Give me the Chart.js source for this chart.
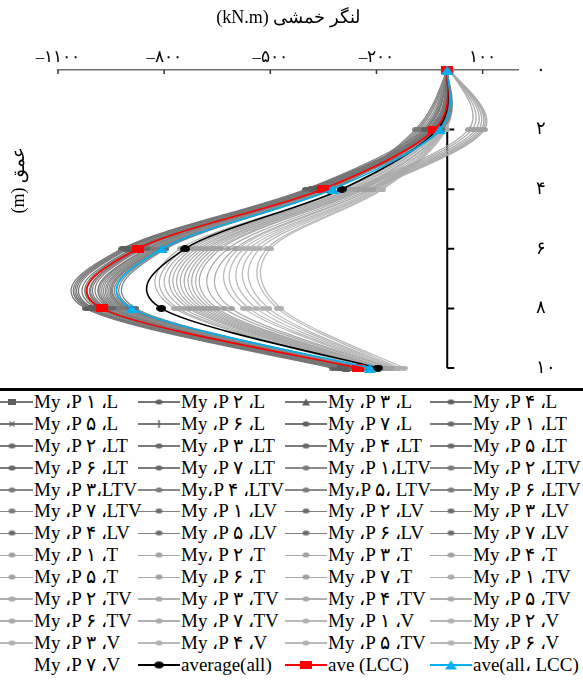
<!DOCTYPE html>
<html lang="fa">
<head>
<meta charset="utf-8">
<title>لنگر خمشی</title>
<script src="https://cdn.jsdelivr.net/npm/chart.js@4.4.1/dist/chart.umd.min.js"></script>
<style>
html,body{margin:0;padding:0;background:#fff;}
#wrap{position:relative;width:583px;height:682px;overflow:hidden;background:#fff;}
#c{position:absolute;left:0;top:0;}
#legend{position:absolute;left:0;top:388px;width:583px;height:294px;border-top:3px solid #000;box-sizing:border-box;overflow:hidden;}
#grid{display:grid;grid-template-columns:147px 147px 145px 153px;grid-auto-rows:21.9px;margin-left:-9px;font-family:"Liberation Serif","Times New Roman",serif;font-size:19px;color:#000;direction:ltr;}
.item{display:flex;align-items:center;white-space:nowrap;height:21.9px;}
.smp{position:relative;flex:0 0 42px;height:20px;}
.smp .ln{position:absolute;left:0;right:0;top:9.5px;height:1.5px;}
.smp img{position:absolute;left:50%;top:50%;transform:translate(-50%,-50%);}
.txt{margin-left:1px;line-height:21.9px;}
</style>
</head>
<body>
<div id="wrap">
  <canvas id="c" width="583" height="388"></canvas>
  <div id="legend"><div id="grid"></div></div>
</div>
<script>
// ---------------- data ----------------
const depths = [0, 2, 4, 6, 8, 10];
const xTickValues = [-1100, -800, -500, -200, 100];
const xTickLabels = ['–۱۱۰۰', '–۸۰۰', '–۵۰۰', '–۲۰۰', '۱۰۰'];
const yTickValues = [0, 2, 4, 6, 8, 10];
const yTickLabels = ['۰', '۲', '۴', '۶', '۸', '۱۰'];
const xTitle = '\u2067لنگر خمشی (kN.m)\u2069';
const yTitle = '\u2067عمق (m)\u2069';

const labelsL   = ['My ،P ۱ ،L', 'My ،P ۲ ،L', 'My ،P ۳ ،L', 'My ،P ۴ ،L', 'My ،P ۵ ،L', 'My ،P ۶ ،L', 'My ،P ۷ ،L'];
const labelsLT  = ['My ،P ۱ ،LT', 'My ،P ۲ ،LT', 'My ،P ۳ ،LT', 'My ،P ۴ ،LT', 'My ،P ۵ ،LT', 'My ،P ۶ ،LT', 'My ،P ۷ ،LT'];
const labelsLTV = ['My ،P ۱،LTV', 'My ،P ۲ ،LTV', 'My ،P ۳،LTV', 'My،P ۴ ،LTV', 'My،P ۵، LTV', 'My ،P ۶ ،LTV', 'My ،P ۷ ،LTV'];
const labelsLV  = ['My ،P ۱ ،LV', 'My ،P ۲ ،LV', 'My ،P ۳ ،LV', 'My ،P ۴ ،LV', 'My ،P ۵ ،LV', 'My ،P ۶ ،LV', 'My ،P ۷ ،LV'];
const labelsT   = ['My ،P ۱ ،T', 'My، P ۲ ،T', 'My ،P ۳ ،T', 'My ،P ۴ ،T', 'My ،P ۵ ،T', 'My ،P ۶ ،T', 'My ،P ۷ ،T'];
const labelsTV  = ['My ،P ۱ ،TV', 'My ،P ۲ ،TV', 'My ،P ۳ ،TV', 'My ،P ۴ ،TV', 'My ،P ۵ ،TV', 'My ،P ۶ ،TV', 'My ،P ۷ ،TV'];
const labelsV   = ['My ،P ۱ ،V', 'My ،P ۲ ،V', 'My ،P ۳ ،V', 'My ،P ۴ ،V', 'My ،P ۵ ،TV', 'My ،P ۶ ،V', 'My  ،P ۷ ،V'];

// values at depths 0,2,4,6,8,10 (kN.m)
const seriesL = [
  [0, -40, -380, -905, -1005, -300],
  [0, -55, -395, -915, -1015, -315],
  [0, -30, -370, -890, -990, -285],
  [0, -65, -400, -920, -1022, -325],
  [0, -45, -385, -900, -1000, -295],
  [0, -35, -375, -885, -982, -280],
  [0, -50, -390, -910, -1010, -305]
];
const seriesLT = [
  [0, -25, -360, -870, -965, -265],
  [0, -40, -365, -880, -975, -275],
  [0, -20, -350, -860, -952, -255],
  [0, -45, -370, -875, -980, -270],
  [0, -30, -355, -865, -960, -260],
  [0, -15, -345, -850, -945, -250],
  [0, -35, -362, -868, -970, -268]
];
const seriesLTV = [
  [0, -60, -345, -840, -935, -245],
  [0, -75, -352, -848, -945, -252],
  [0, -85, -340, -830, -925, -240],
  [0, -70, -348, -845, -940, -248],
  [0, -90, -335, -825, -915, -238],
  [0, -65, -342, -835, -930, -242],
  [0, -80, -338, -828, -920, -236]
];
const seriesLV = [
  [0, -50, -335, -815, -905, -235],
  [0, -60, -330, -805, -895, -230],
  [0, -40, -340, -820, -912, -240],
  [0, -55, -328, -800, -888, -228],
  [0, -45, -332, -810, -900, -232],
  [0, -35, -336, -818, -908, -238],
  [0, -65, -326, -795, -880, -225]
];
const seriesT = [
  [8, 95, -230, -640, -650, -175],
  [8, 105, -210, -600, -610, -160],
  [8, 80, -250, -680, -690, -190],
  [8, 100, -220, -620, -630, -165],
  [8, 70, -260, -700, -710, -200],
  [8, 88, -240, -660, -670, -180],
  [8, 60, -270, -720, -730, -210]
];
const seriesTV = [
  [0, -20, -280, -740, -760, -220],
  [0, -10, -265, -710, -720, -205],
  [0, -25, -290, -755, -770, -228],
  [0, -15, -255, -690, -700, -195],
  [0, -5, -240, -650, -660, -180],
  [0, -18, -275, -730, -745, -215],
  [0, -12, -250, -670, -680, -188]
];
const seriesV = [
  [0, -10, -200, -560, -540, -150],
  [0, -5, -190, -530, -505, -142],
  [0, -15, -215, -590, -575, -160],
  [0, -8, -185, -510, -480, -135],
  [0, -12, -205, -575, -560, -155],
  [0, -6, -195, -545, -520, -145],
  [0, -3, -182, -500, -470, -122]
];
const avgAllLabel = 'average(all)';
const avgAll = [0, -28, -298, -741, -808, -196];
const aveLCCLabel = 'ave (LCC)';
const aveLCC = [0, -36, -352, -874, -976, -253];
const aveAllLCCLabel = 'ave(all، LCC)';
const aveAllLCC = [0, -21, -323, -806, -892, -219];

// ---------------- styles ----------------
const FONT = '"Liberation Serif", "Times New Roman", serif';
const groupColor = {L: '#767676', LT: '#7c7c7c', LTV: '#8a8a8a', LV: '#818181', T: '#a8a8a8', TV: '#b0b0b0', V: '#b9b9b9'};
const groupMarker = {L: '#5e5e5e', LT: '#666666', LTV: '#7a7a7a', LV: '#6c6c6c', T: '#a0a0a0', TV: '#a8a8a8', V: '#b0b0b0'};
const lShapes = ['rect', 'ellipse', 'triangle', 'ellipse', 'x', 'bar', 'ellipse'];
const shapeSize = {rect: [8, 6], ellipse: [7, 5], triangle: [8, 7], x: [7, 7], bar: [3, 8]};

function markerCanvas(shape, color, w, h) {
  const c = document.createElement('canvas');
  c.width = w; c.height = h;
  const g = c.getContext('2d');
  g.fillStyle = color; g.strokeStyle = color;
  if (shape === 'ellipse') { g.beginPath(); g.ellipse(w / 2, h / 2, w / 2, h / 2, 0, 0, Math.PI * 2); g.fill(); }
  else if (shape === 'rect') { g.fillRect(0, 0, w, h); }
  else if (shape === 'triangle') { g.beginPath(); g.moveTo(w / 2, 0); g.lineTo(w, h); g.lineTo(0, h); g.closePath(); g.fill(); }
  else if (shape === 'x') { g.lineWidth = 1.3; g.beginPath(); g.moveTo(1, 1); g.lineTo(w - 1, h - 1); g.moveTo(w - 1, 1); g.lineTo(1, h - 1); g.stroke(); }
  else if (shape === 'bar') { g.fillRect(w / 2 - 0.75, 0, 1.5, h); }
  return c;
}

function toPoints(vals) { return depths.map((d, j) => ({x: vals[j], y: d})); }

const groups = [
  ['L', labelsL, seriesL], ['LT', labelsLT, seriesLT], ['LTV', labelsLTV, seriesLTV], ['LV', labelsLV, seriesLV],
  ['T', labelsT, seriesT], ['TV', labelsTV, seriesTV], ['V', labelsV, seriesV]
];
const datasets = [];
groups.forEach(([key, labels, rows]) => {
  const col = groupColor[key];
  rows.forEach((vals, i) => {
    const shape = key === 'L' ? lShapes[i] : 'ellipse';
    const sz = shapeSize[shape];
    datasets.push({
      label: labels[i], data: toPoints(vals),
      borderColor: col, backgroundColor: col, borderWidth: 1.2,
      pointStyle: markerCanvas(shape, groupMarker[key], sz[0], sz[1]), pointRadius: 3,
      order: 1, clip: false, xAxisID: 'x', yAxisID: 'y',
      legendSample: !(key === 'V' && i === 6)
    });
  });
});
datasets.push({label: avgAllLabel, data: toPoints(avgAll), borderColor: '#000', backgroundColor: '#000', borderWidth: 1.6,
  pointStyle: markerCanvas('ellipse', '#000', 10, 7), pointRadius: 4, order: -1, clip: false, xAxisID: 'x', yAxisID: 'y'});
datasets.push({label: aveLCCLabel, data: toPoints(aveLCC), borderColor: '#ff0000', backgroundColor: '#ff0000', borderWidth: 1.6,
  pointStyle: markerCanvas('rect', '#ff0000', 12, 8), pointRadius: 5, order: -2, clip: false, xAxisID: 'x', yAxisID: 'y'});
datasets.push({label: aveAllLCCLabel, data: toPoints(aveAllLCC), borderColor: '#00b0f0', backgroundColor: '#00b0f0', borderWidth: 1.6,
  pointStyle: markerCanvas('triangle', '#00b0f0', 12, 9), pointRadius: 5, order: -3, clip: false, xAxisID: 'x', yAxisID: 'y'});

// Excel-like smoothing (uniform Catmull-Rom control points from the scaled pixel positions)
const smoothPlugin = {
  id: 'smooth',
  beforeDatasetDraw(chart, args) {
    const meta = args.meta, line = meta.dataset;
    if (!line) return;
    line.updateControlPoints(chart.chartArea, meta.iScale.axis);
    const pts = meta.data, n = pts.length, k = 1 / 6;
    for (let i = 0; i < n; i++) {
      const p = pts[i], a = pts[Math.max(i - 1, 0)], b = pts[Math.min(i + 1, n - 1)];
      const dx = (b.x - a.x) * k, dy = (b.y - a.y) * k;
      p.cp1x = p.x - dx; p.cp1y = p.y - dy;
      p.cp2x = p.x + dx; p.cp2y = p.y + dy;
    }
    line._path = undefined;
  }
};

// vertical axis at moment = 0, and inward tick marks
const axisPlugin = {
  id: 'zeroAxis',
  afterLayout(chart) {
    const yl = chart.scales.yL, y = chart.scales.y;
    yl.top = y.getPixelForValue(0);
    yl.bottom = y.getPixelForValue(7.4);
  },
  beforeDatasetsDraw(chart) {
    const {ctx, scales: {x, y}} = chart;
    const x0 = x.getPixelForValue(0);
    ctx.save();
    ctx.strokeStyle = '#000'; ctx.lineWidth = 2;
    ctx.beginPath();
    ctx.moveTo(x0, y.getPixelForValue(y.min)); ctx.lineTo(x0, y.getPixelForValue(y.max));
    y.ticks.forEach(t => { if (t.value === 0) return; const py = y.getPixelForValue(t.value); ctx.moveTo(x0, py); ctx.lineTo(x0 + 7, py); });
    ctx.stroke();
    ctx.strokeStyle = '#333'; ctx.lineWidth = 1.5;
    ctx.beginPath();
    x.ticks.forEach(t => { const px = x.getPixelForValue(t.value); ctx.moveTo(px, x.bottom); ctx.lineTo(px, x.bottom + 4); });
    ctx.stroke();
    ctx.restore();
  }
};

const chart = new Chart(document.getElementById('c'), {
  type: 'line',
  data: {datasets},
  options: {
    responsive: false, animation: false, events: [],
    layout: {padding: {top: 0, bottom: 20, left: 0, right: 0}},
    plugins: {legend: {display: false}, title: {display: false}, tooltip: {enabled: false}},
    elements: {line: {tension: 0.4}, point: {borderWidth: 0}},
    scales: {
      x: {
        type: 'linear', position: 'top', min: -1100, max: 200,
        afterBuildTicks: s => { s.ticks = xTickValues.map(v => ({value: v})); },
        afterFit: s => { s.height = 70; },
        grid: {display: false, drawTicks: false},
        border: {display: true, color: '#6e6e6e', width: 1.5},
        ticks: {callback: (v, i) => xTickLabels[i], color: '#000', font: {family: FONT, size: 17}, padding: 2, maxRotation: 0, autoSkip: false},
        title: {display: true, text: xTitle, color: '#000', font: {family: FONT, size: 18}, padding: {top: 7, bottom: 0}}
      },
      y: {
        type: 'linear', position: 'right', min: 0, max: 10, reverse: true,
        afterBuildTicks: s => { s.ticks = yTickValues.map(v => ({value: v})); },
        afterFit: s => { s.width = 65; },
        grid: {display: true, drawOnChartArea: false, drawTicks: true, tickLength: 18, color: 'rgba(0,0,0,0)', tickColor: 'rgba(0,0,0,0)'},
        border: {display: false},
        ticks: {callback: (v, i) => yTickLabels[i], color: '#000', font: {family: FONT, size: 18}, padding: 0, autoSkip: false}
      },
      yL: {
        type: 'linear', position: 'left', display: true,
        afterFit: s => { s.width = 58; },
        grid: {display: false, drawTicks: false},
        border: {display: false},
        ticks: {display: false},
        title: {display: true, text: yTitle, color: '#000', font: {family: FONT, size: 18}, padding: {top: 8, bottom: 0}}
      }
    }
  },
  plugins: [smoothPlugin, axisPlugin]
});

// ---------------- legend (grid, 4 columns) ----------------
const grid = document.getElementById('grid');
chart.data.datasets.forEach(ds => {
  const item = document.createElement('div');
  item.className = 'item';
  const smp = document.createElement('span');
  smp.className = 'smp';
  if (ds.legendSample !== false) {
    const ln = document.createElement('div');
    ln.className = 'ln';
    ln.style.background = ds.borderColor;
    smp.appendChild(ln);
    const img = document.createElement('img');
    img.src = ds.pointStyle.toDataURL();
    img.width = ds.pointStyle.width; img.height = ds.pointStyle.height;
    smp.appendChild(img);
  }
  const txt = document.createElement('span');
  txt.className = 'txt';
  txt.textContent = ds.label;
  item.appendChild(smp); item.appendChild(txt);
  grid.appendChild(item);
});
</script>
</body>
</html>
